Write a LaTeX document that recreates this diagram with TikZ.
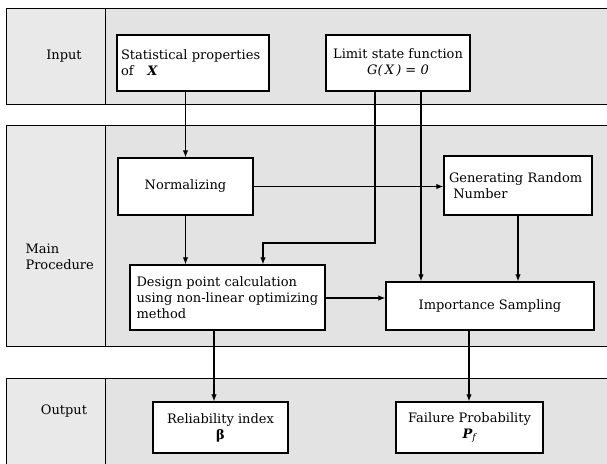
\documentclass[tikz,border=0pt]{standalone}
\usepackage{fontspec}
\setmainfont{DejaVu Serif}
\usetikzlibrary{arrows.meta,positioning}
\begin{document}
\begin{tikzpicture}[x=1pt,y=-1pt,
  band/.style={draw=black,line width=1pt,fill=gray!22},
  col/.style={draw=black,line width=0.8pt,fill=gray!17},
  box/.style={draw=black,line width=1.4pt,fill=white,inner sep=4pt,font=\fontsize{13}{16}\selectfont},
  lab/.style={font=\fontsize{13}{16}\selectfont},
  arr/.style={line width=1.1pt,-{Latex[length=7pt,width=5.5pt]}},
  ln/.style={line width=1pt}]
\useasboundingbox (0,0) rectangle (607,463);
% bands
\path[band] (6,8) rectangle (615,104);
\path[col] (6,8) rectangle (105,104);
\path[band] (6,125) rectangle (615,346);
\path[col] (6,125) rectangle (105,346);
\path[band] (6,378) rectangle (615,470);
\path[col] (6,378) rectangle (105,470);
% band labels
\node[lab] (lin) at (64,56) {Input};
\node[lab,align=left,anchor=west] (lmain) at (22,257) {Main\\Procedure};
\node[lab] (lout) at (64,411) {Output};
% boxes
\node[box,minimum width=150pt,minimum height=56pt,align=left,text width=144pt] (stat) at (193,63) {Statistical properties\\of\quad \textbf{\textit{X}}};
\node[box,minimum width=144pt,minimum height=56pt,align=center] (lim) at (398,63) {Limit state function\\\textit{G(\,X\,) = 0}};
\node[box,minimum width=135pt,minimum height=57pt] (norm) at (185.5,186.5) {Normalizing};
\node[box,minimum width=148pt,minimum height=59pt,align=left,text width=138pt] (gen) at (518,185.5) {Generating Random\\\ Number};
\node[box,minimum width=195pt,minimum height=65pt,align=left,text width=182pt] (des) at (227.5,297.5) {Design point calculation\\using non-linear optimizing\\method};
\node[box,minimum width=208pt,minimum height=48pt] (imp) at (490,306) {Importance Sampling};
\node[box,minimum width=135pt,minimum height=51pt,align=center] (rel) at (220.5,427.5) {Reliability index\\\textbf{β}};
\node[box,minimum width=147pt,minimum height=51pt,align=center] (fail) at (469.5,427.5) {Failure Probability\\{\bfseries\itshape P}\textsubscript{\itshape f}};
% connectors
\draw[arr] (stat.south -| norm.north) -- (norm.north);
\coordinate (c1) at (375,243);
\draw[arr] (lim.south -| c1) -- (c1) -| ([xshift=35.5pt]des.north);
\draw[arr] ([xshift=23pt]lim.south) -- ([xshift=23pt]lim.south |- imp.north);
\draw[arr] (norm.east) -- (norm.east -| gen.west);
\draw[arr] (norm.south) -- (norm.south |- des.north);
\draw[arr] (gen.south) -- (gen.south |- imp.north);
\draw[arr] (des.east |- 0,298) -- (imp.west |- 0,298);
\draw[arr] ([xshift=-13.5pt]des.south) -- ([xshift=-13.5pt]des.south |- rel.north);
\draw[arr] ([xshift=-21pt]imp.south) -- ([xshift=-21pt]imp.south |- fail.north);
\end{tikzpicture}
\end{document}
